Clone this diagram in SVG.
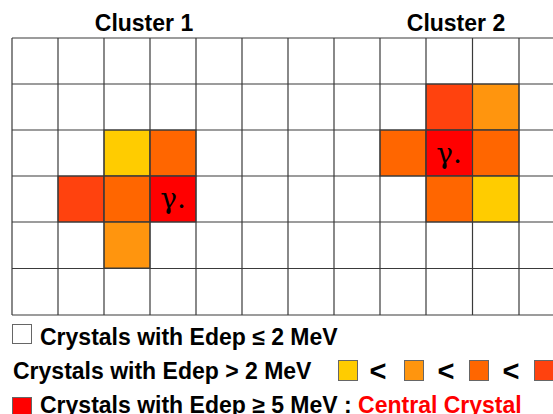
<svg xmlns="http://www.w3.org/2000/svg" width="553" height="414" viewBox="0 0 553 414">
<style>
.t{font-family:"Liberation Sans",Arial,sans-serif;font-weight:bold;font-size:23px;fill:#000}
.lt{font-family:"Liberation Sans",Arial,sans-serif;font-weight:bold;font-size:29px;fill:#000}
.g{font-family:"DejaVu Serif","Liberation Serif",serif;font-size:28px;fill:#000}
.grid line{stroke:#3a3a3a;stroke-width:1.2}
.c{stroke:#3a3a3a;stroke-width:1}
.y{fill:#FFCC00}.lo{fill:#FF950E}.o{fill:#FF6600}.ro{fill:#FF420E}.r{fill:#FF0000}
.lg{stroke:#666;stroke-width:1}
</style>
<rect width="553" height="414" fill="#fff"/>
<text class="t" x="144" y="31" text-anchor="middle">Cluster 1</text>
<text class="t" x="456" y="31" text-anchor="middle">Cluster 2</text>
<g id="cluster1">
<rect class="c y" x="104" y="130" width="46" height="46"/>
<rect class="c o" x="150" y="130" width="46" height="46"/>
<rect class="c ro" x="58" y="176" width="46" height="46"/>
<rect class="c o" x="104" y="176" width="46" height="46"/>
<rect class="c r" x="150" y="176" width="46" height="46"/>
<rect class="c lo" x="104" y="222" width="46" height="46"/>
<text class="g" x="173" y="208" text-anchor="middle">γ.</text>
</g>
<g id="cluster2">
<rect class="c ro" x="426" y="84" width="46.5" height="46"/>
<rect class="c lo" x="472.5" y="84" width="46.5" height="46"/>
<rect class="c o" x="380" y="130" width="46" height="46"/>
<rect class="c r" x="426" y="130" width="46.5" height="46"/>
<rect class="c o" x="472.5" y="130" width="46.5" height="46"/>
<rect class="c o" x="426" y="176" width="46.5" height="46"/>
<rect class="c y" x="472.5" y="176" width="46.5" height="46"/>
<text class="g" x="449" y="163" text-anchor="middle">γ.</text>
</g>
<g id="grid" class="grid">
<line x1="12" y1="38" x2="553" y2="38"/>
<line x1="12" y1="84" x2="553" y2="84"/>
<line x1="12" y1="130" x2="553" y2="130"/>
<line x1="12" y1="176" x2="553" y2="176"/>
<line x1="12" y1="222" x2="553" y2="222"/>
<line x1="12" y1="268.5" x2="553" y2="268.5"/>
<line x1="12" y1="315" x2="553" y2="315"/>
<line x1="12" y1="38" x2="12" y2="315"/>
<line x1="58" y1="38" x2="58" y2="315"/>
<line x1="104" y1="38" x2="104" y2="315"/>
<line x1="150" y1="38" x2="150" y2="315"/>
<line x1="196" y1="38" x2="196" y2="315"/>
<line x1="242" y1="38" x2="242" y2="315"/>
<line x1="288" y1="38" x2="288" y2="315"/>
<line x1="334" y1="38" x2="334" y2="315"/>
<line x1="380" y1="38" x2="380" y2="315"/>
<line x1="426" y1="38" x2="426" y2="315"/>
<line x1="472.5" y1="38" x2="472.5" y2="315"/>
<line x1="519" y1="38" x2="519" y2="315"/>
</g>
<g id="legend">
<rect class="lg" x="12.5" y="324.5" width="19" height="19" fill="#fff"/>
<text class="t" x="40" y="345">Crystals with Edep ≤ 2 MeV</text>
<text class="t" x="13" y="379">Crystals with Edep &gt; 2 MeV</text>
<rect class="lg y" x="338.5" y="360.5" width="19" height="20"/>
<text class="lt" x="378" y="381" text-anchor="middle">&lt;</text>
<rect class="lg lo" x="404.5" y="360.5" width="19" height="20"/>
<text class="lt" x="446" y="381" text-anchor="middle">&lt;</text>
<rect class="lg o" x="469.5" y="360.5" width="19" height="20"/>
<text class="lt" x="511" y="381" text-anchor="middle">&lt;</text>
<rect class="lg ro" x="534.5" y="360.5" width="19" height="20"/>
<rect class="lg r" x="12.5" y="397.5" width="19" height="19"/>
<text class="t" x="40" y="413">Crystals with Edep ≥ 5 MeV : <tspan fill="#FF0000">Central Crystal</tspan></text>
</g>
</svg>
